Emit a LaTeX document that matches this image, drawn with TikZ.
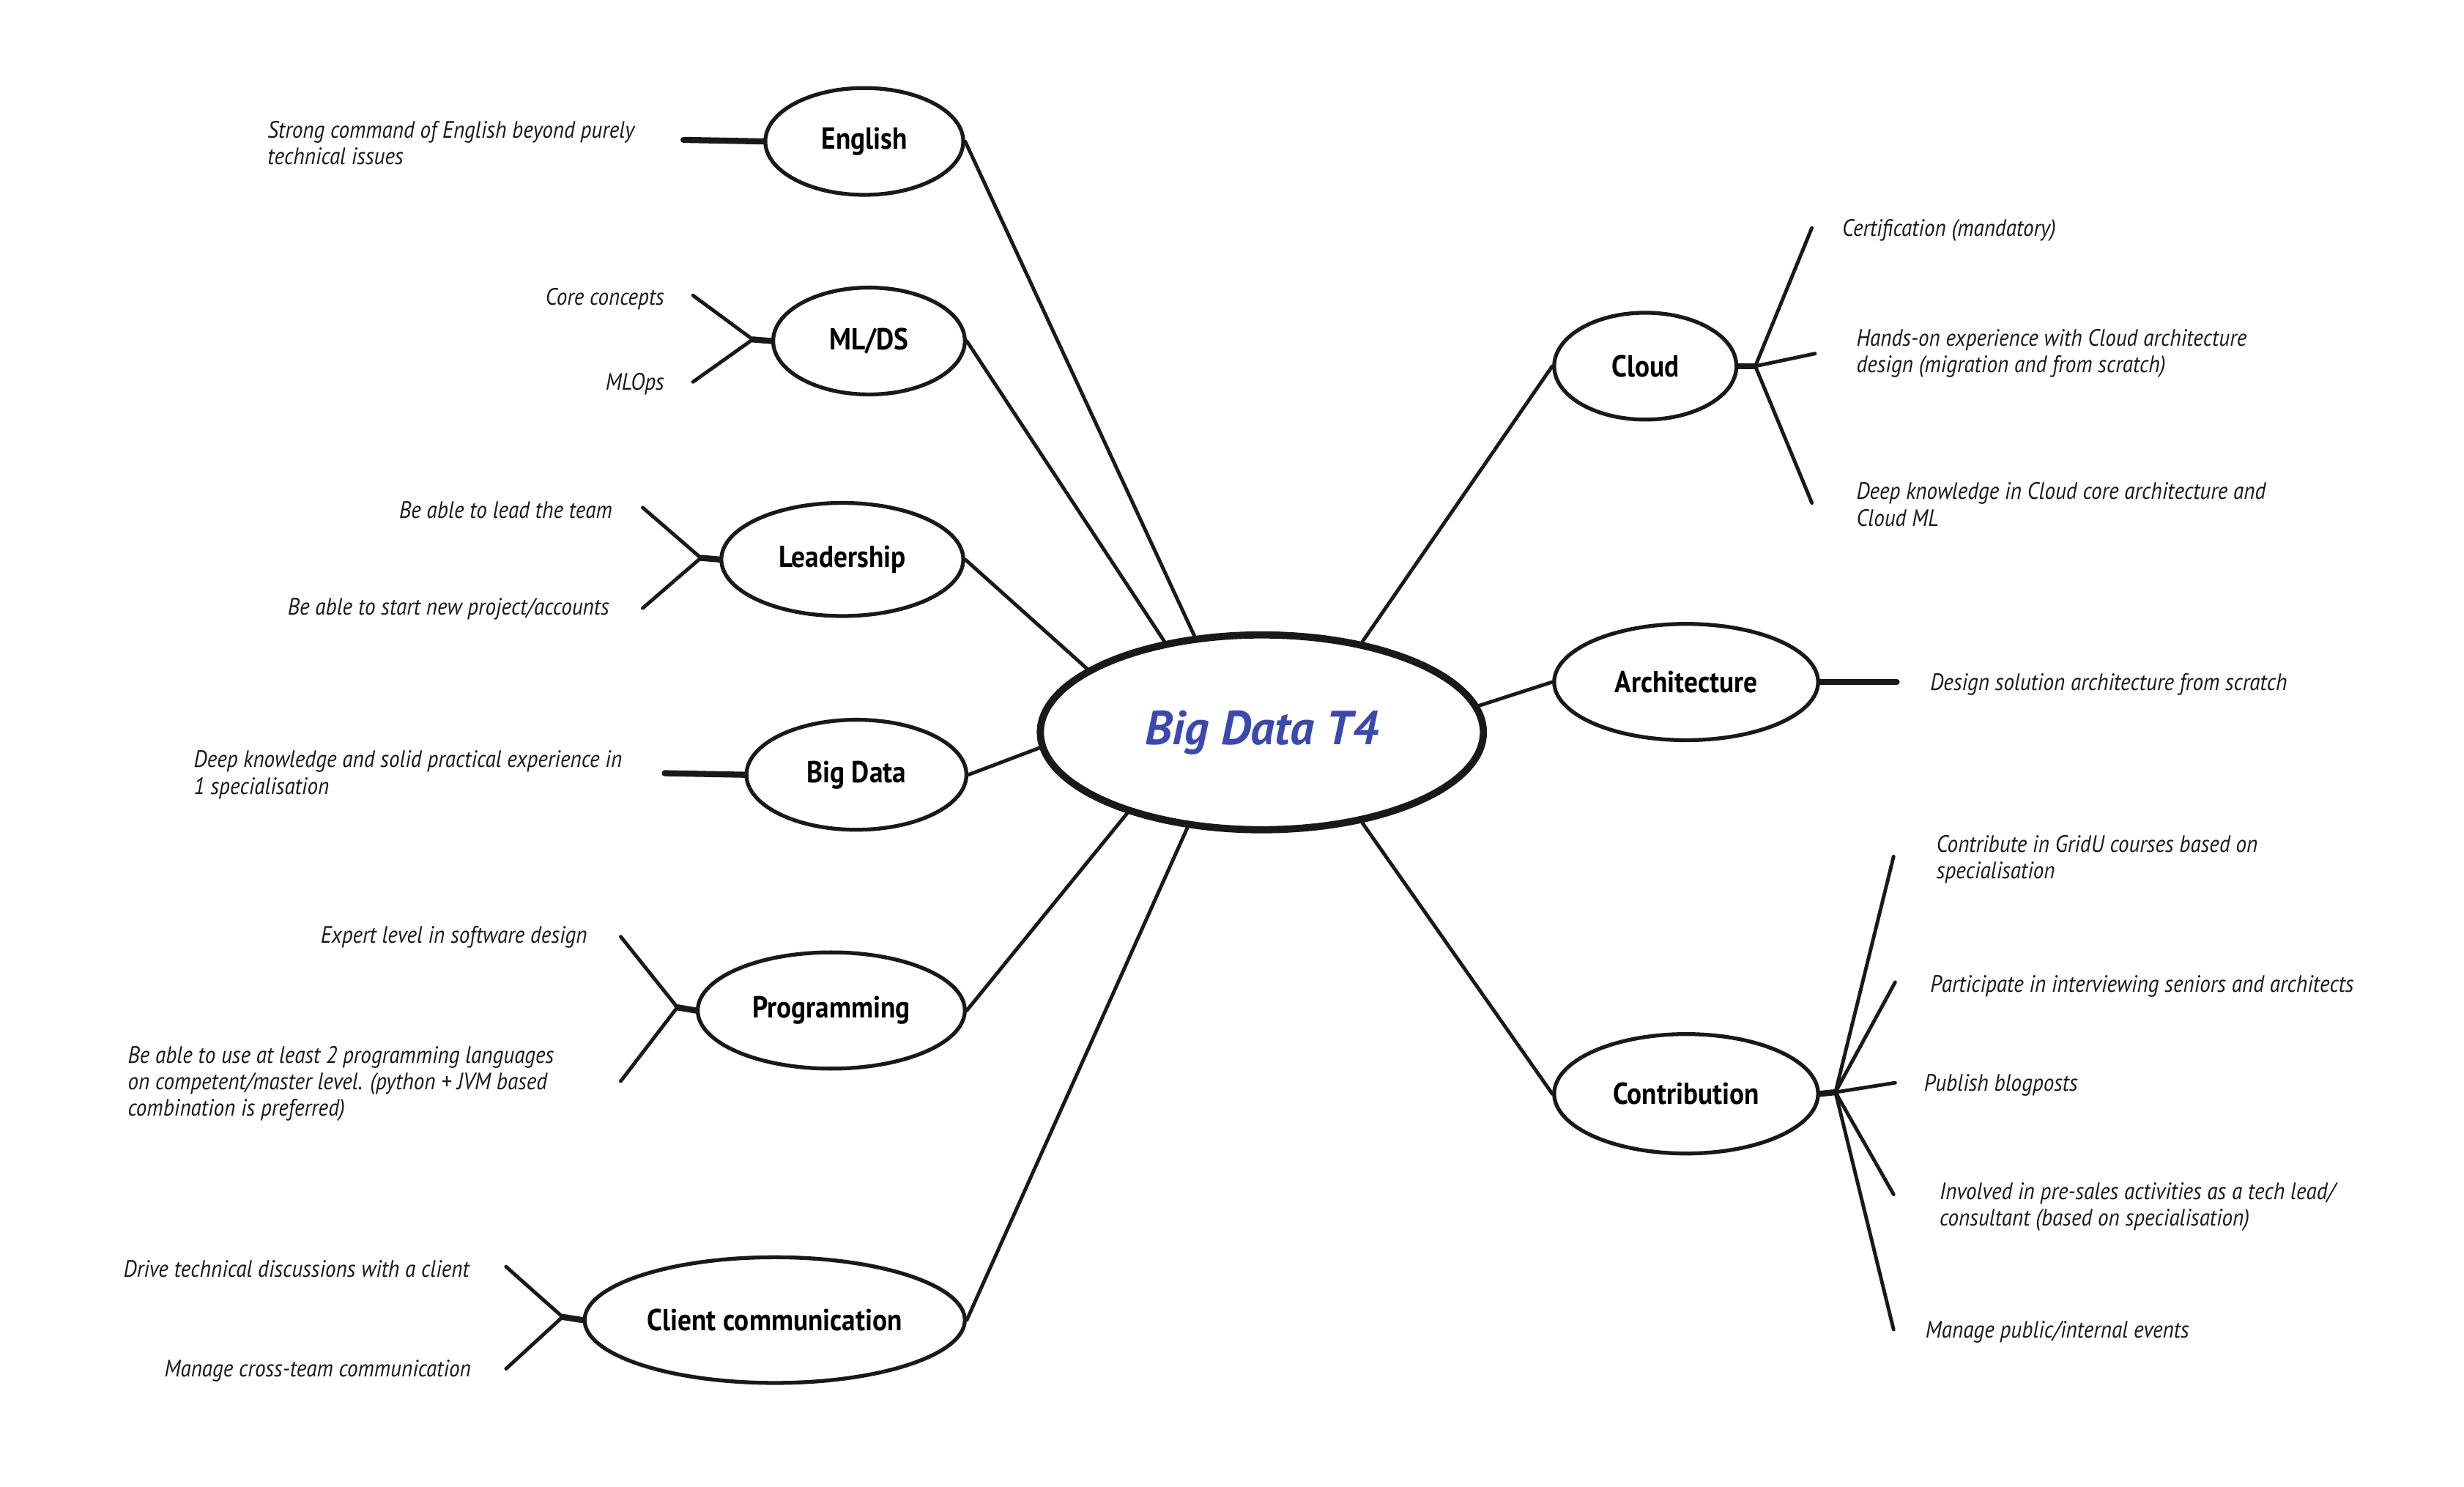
\documentclass[tikz,border=0pt]{standalone}
\usepackage{fontspec}
\setmainfont{PT Sans}
\newfontfamily\leaffont{PT Sans}[FakeStretch=0.9]
\usetikzlibrary{shapes.geometric}
\definecolor{ink}{RGB}{25,25,25}
\definecolor{hubblue}{RGB}{59,72,175}
\tikzset{
  ln/.style={draw=ink, line width=1.3pt, line cap=round},
  stub/.style={draw=ink, line width=2.2pt, line cap=round},
  topic/.style={ellipse, draw=ink, line width=1.4pt, fill=white, inner sep=0pt,
    font=\leaffont\bfseries\fontsize{11}{13}\selectfont},
  hubnode/.style={ellipse, draw=ink, line width=2.6pt, fill=white, inner sep=0pt,
    font=\bfseries\itshape\fontsize{17.3}{19}\selectfont, text=hubblue},
  leaf/.style={inner sep=0pt, text=ink, yshift=-0.03cm, font=\leaffont\itshape\fontsize{8.6}{9.6}\selectfont},
}
\begin{document}
\begin{tikzpicture}[x=0.02cm,y=-0.02cm]
\useasboundingbox (0,0) rectangle (1568,946.2);

% hub
\node[hubnode, minimum width=5.64cm, minimum height=2.48cm] (hub) at (803,466) {Big Data T4};

% topics
\node[topic, minimum width=2.52cm, minimum height=1.36cm] (english) at (550,90) {English};
\node[topic, minimum width=2.44cm, minimum height=1.36cm] (mlds) at (553,217) {ML/DS};
\node[topic, minimum width=3.08cm, minimum height=1.44cm] (lead) at (536,356) {Leadership};
\node[topic, minimum width=2.80cm, minimum height=1.40cm] (bigdata) at (545,493) {Big Data};
\node[topic, minimum width=3.40cm, minimum height=1.48cm] (prog) at (529,643) {Programming};
\node[topic, minimum width=4.84cm, minimum height=1.60cm] (client) at (493,840) {Client communication};
\node[topic, minimum width=2.32cm, minimum height=1.36cm] (cloud) at (1047,233) {Cloud};
\node[topic, minimum width=3.36cm, minimum height=1.48cm] (arch) at (1073,434) {Architecture};
\node[topic, minimum width=3.36cm, minimum height=1.52cm] (contrib) at (1073,696) {Contribution};

% hub connectors
\draw[ln] (english.east) -- (hub.125);
\draw[ln] (mlds.east) -- (hub.137);
\draw[ln] (lead.east) -- (hub.160);
\draw[ln] (bigdata.east) -- (hub.184.5);
\draw[ln] (prog.east) -- (hub.211.6);
\draw[ln] (client.east) -- (hub.232.5);
\draw[ln] (cloud.west) -- (hub.42.6);
\draw[ln] (arch.west) -- (hub.7);
\draw[ln] (contrib.west) -- (hub.318.7);

% leaf texts - left
\node[leaf, anchor=west, align=left] (t-eng) at (170,89.5) {Strong command of English beyond purely\\technical issues};
\node[leaf, anchor=east] (t-core) at (423,189) {Core concepts};
\node[leaf, anchor=east] (t-mlops) at (423,243) {MLOps};
\node[leaf, anchor=east] (t-leadteam) at (390,323) {Be able to lead the team};
\node[leaf, anchor=east] (t-start) at (388,386) {Be able to start new project/accounts};
\node[leaf, anchor=west, align=left] (t-bd) at (123,491.5) {Deep knowledge and solid practical experience in\\1 specialisation};
\node[leaf, anchor=east] (t-expert) at (374,595) {Expert level in software design};
\node[leaf, anchor=west, align=left] (t-langs) at (81,688) {Be able to use at least 2 programming languages\\on competent/master level. (python + JVM based\\combination is preferred)};
\node[leaf, anchor=east] (t-drive) at (299,806) {Drive technical discussions with a client};
\node[leaf, anchor=east] (t-cross) at (300,871) {Manage cross-team communication};

% leaf texts - right
\node[leaf, anchor=west] (t-cert) at (1172,145) {Certification (mandatory)};
\node[leaf, anchor=west, align=left] (t-hands) at (1181,223.5) {Hands-on experience with Cloud architecture\\design (migration and from scratch)};
\node[leaf, anchor=west, align=left] (t-cloudml) at (1181,319.5) {Deep knowledge in Cloud core architecture and\\Cloud ML};
\node[leaf, anchor=west] (t-design) at (1228,434) {Design solution architecture from scratch};
\node[leaf, anchor=west, align=left] (t-gridu) at (1232,545.5) {Contribute in GridU courses based on\\specialisation};
\node[leaf, anchor=west] (t-interv) at (1228,626) {Participate in interviewing seniors and architects};
\node[leaf, anchor=west] (t-blog) at (1224,689) {Publish blogposts};
\node[leaf, anchor=west, align=left] (t-presales) at (1234,766.5) {Involved in pre-sales activities as a tech lead/\\consultant (based on specialisation)};
\node[leaf, anchor=west] (t-events) at (1225,846) {Manage public/internal events};

% fork coordinates and line ends
\coordinate (e-eng) at (435,89);
\coordinate (f-mlds) at (479,216);
\coordinate (e-core) at (441,188);
\coordinate (e-mlops) at (441,243);
\coordinate (f-lead) at (446,355);
\coordinate (e-leadteam) at (409,323);
\coordinate (e-start) at (409,387);
\coordinate (e-bd) at (423,492);
\coordinate (f-prog) at (431,641);
\coordinate (e-expert) at (395,596);
\coordinate (e-langs) at (395,688);
\coordinate (f-client) at (358,838);
\coordinate (e-drive) at (322,806);
\coordinate (e-cross) at (322,871);
\coordinate (f-cloud) at (1117,233);
\coordinate (e-cert) at (1153,145);
\coordinate (e-hands) at (1155,225);
\coordinate (e-cloudml) at (1153,320);
\coordinate (e-design) at (1207,434);
\coordinate (f-contrib) at (1168,695);
\coordinate (e-gridu) at (1205,545);
\coordinate (e-interv) at (1206,625);
\coordinate (e-blog) at (1206,689);
\coordinate (e-presales) at (1205,760);
\coordinate (e-events) at (1205,846);

% leaf connectors - left
\draw[stub] (english.west) -- (e-eng);
\draw[stub] (mlds.west) -- (f-mlds);
\draw[ln] (f-mlds) -- (e-core);
\draw[ln] (f-mlds) -- (e-mlops);
\draw[stub] (lead.west) -- (f-lead);
\draw[ln] (f-lead) -- (e-leadteam);
\draw[ln] (f-lead) -- (e-start);
\draw[stub] (bigdata.west) -- (e-bd);
\draw[stub] (prog.west) -- (f-prog);
\draw[ln] (f-prog) -- (e-expert);
\draw[ln] (f-prog) -- (e-langs);
\draw[stub] (client.west) -- (f-client);
\draw[ln] (f-client) -- (e-drive);
\draw[ln] (f-client) -- (e-cross);

% leaf connectors - right
\draw[stub] (cloud.east) -- (f-cloud);
\draw[ln] (f-cloud) -- (e-cert);
\draw[ln] (f-cloud) -- (e-hands);
\draw[ln] (f-cloud) -- (e-cloudml);
\draw[stub] (arch.east) -- (e-design);
\draw[stub] (contrib.east) -- (f-contrib);
\draw[ln] (f-contrib) -- (e-gridu);
\draw[ln] (f-contrib) -- (e-interv);
\draw[ln] (f-contrib) -- (e-blog);
\draw[ln] (f-contrib) -- (e-presales);
\draw[ln] (f-contrib) -- (e-events);
\end{tikzpicture}
\end{document}
